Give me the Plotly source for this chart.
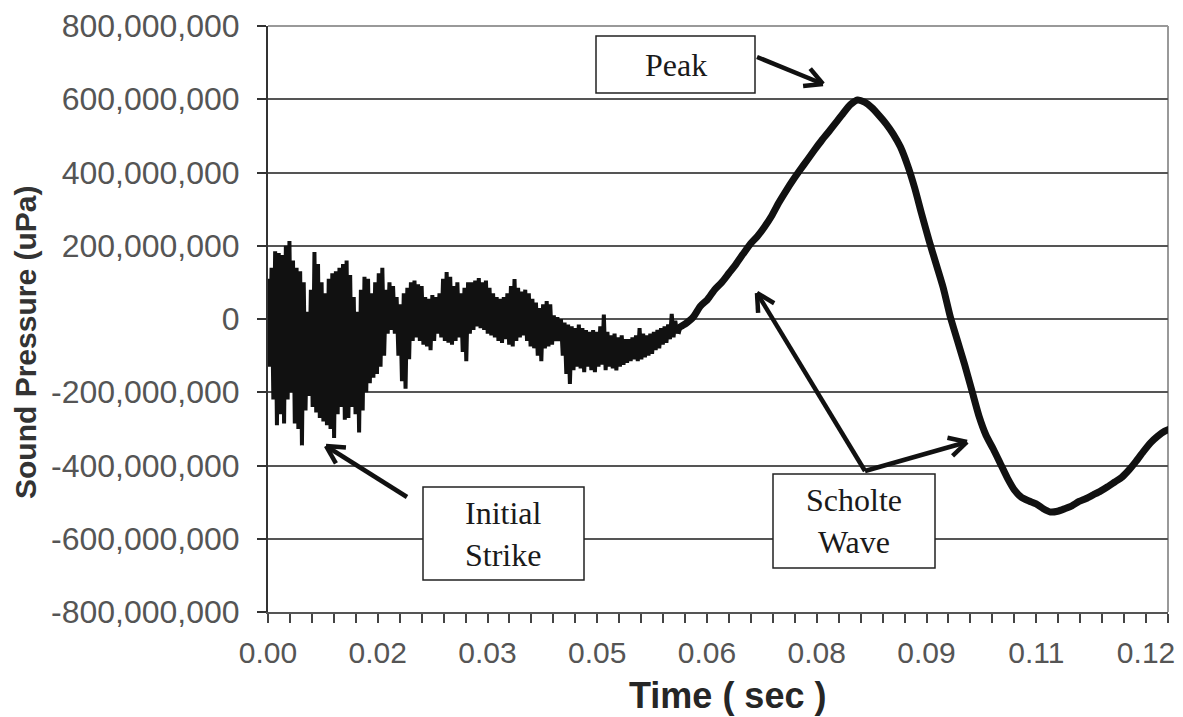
import math
import plotly.graph_objects as go

# ---------------- data ----------------
# Noisy early part: upper / lower envelope of the trace, one pair every 0.0005 s (million uPa)
noise_step = 0.0005
noise_hi = [110, 140, 185, 180, 175, 200, 213, 160, 140, 130,
            100, 20, 80, 183, 150, 100, 70, 110, 125, 130,
            140, 150, 160, 120, 60, 20, 80, 115, 110, 70,
            100, 125, 140, 80, 100, 90, 60, 40, 70, 85,
            100, 105, 95, 90, 60, 55, 65, 60, 70, 110,
            128, 115, 90, 100, 70, 85, 100, 100, 105, 112,
            100, 105, 85, 70, 60, 55, 60, 70, 90, 109,
            85, 75, 80, 70, 55, 45, 30, 40, 49, 40,
            10, 5, 0, -10, -15, -20, -25, -15, -25, -30,
            -35, -30, -35, -20, 12, -35, -45, -40, -50, -45,
            -55, -55, -50, -45, -25, -40, -45, -40, -35, -30,
            -25, -20, -15, 14, -5]
noise_lo = [-130, -220, -290, -260, -285, -220, -200, -285, -300, -345,
            -250, -210, -240, -255, -270, -280, -290, -300, -325, -260,
            -240, -275, -270, -240, -260, -310, -250, -200, -175, -160,
            -150, -130, -100, -40, -30, -40, -100, -170, -190, -110,
            -60, -50, -60, -70, -75, -85, -60, -40, -50, -60,
            -65, -70, -60, -50, -90, -115, -40, -30, -20, -25,
            -30, -40, -45, -50, -60, -65, -55, -70, -75, -60,
            -50, -45, -60, -75, -80, -100, -115, -80, -75, -70,
            -60, -60, -100, -150, -177, -140, -130, -135, -145, -130,
            -140, -145, -130, -125, -140, -130, -135, -140, -130, -125,
            -120, -115, -110, -115, -110, -105, -100, -95, -85, -80,
            -70, -65, -55, -50, -40]

# Smooth Scholte-wave part: one value every 0.001 s from 0.0575 s (million uPa)
wave_t0 = 0.0575
wave_step = 0.001
wave_vals = [-25, -12, 5, 35, 53, 80, 100, 125, 150, 178,
             205, 226, 252, 282, 318, 350, 380, 408, 435, 462,
             488, 512, 537, 562, 585, 598, 592, 577, 556, 533,
             505, 470, 420, 358, 285, 215, 150, 85, 5, -60,
             -125, -195, -265, -318, -355, -395, -435, -468, -488, -497,
             -505, -518, -527, -525, -518, -510, -498, -490, -480, -470,
             -458, -445, -432, -412, -388, -362, -338, -320, -306, -298]

x_major_unit = 0.01536
x_tick_labels = ["0.00", "0.02", "0.03", "0.05", "0.06", "0.08", "0.09", "0.11", "0.12"]
y_tick_values = [-800e6, -600e6, -400e6, -200e6, 0, 200e6, 400e6, 600e6, 800e6]
y_tick_labels = ["-800,000,000", "-600,000,000", "-400,000,000", "-200,000,000", "0",
                 "200,000,000", "400,000,000", "600,000,000", "800,000,000"]

# ---------------- build traces ----------------
noise_x, noise_y = [], []
for k, (h, l) in enumerate(zip(noise_hi, noise_lo)):
    noise_x += [k * noise_step, k * noise_step + noise_step / 2]
    noise_y += [h * 1e6, l * 1e6]

wave_x = [noise_x[-1]] + [wave_t0 + i * wave_step for i in range(len(wave_vals))]
wave_y = [noise_y[-1]] + [v * 1e6 for v in wave_vals]

fig = go.Figure()
fig.add_trace(go.Scatter(x=noise_x, y=noise_y, mode="lines",
                         line=dict(color="#111111", width=4), hoverinfo="skip"))
fig.add_trace(go.Scatter(x=wave_x, y=wave_y, mode="lines",
                         line=dict(color="#111111", width=7, shape="spline", smoothing=0.6),
                         hoverinfo="skip"))

# ---------------- layout ----------------
# target pixel positions of the plot area in the final page (page body has an 8px margin)
OFF = 8
L, R, T, B = 268, 1168, 26, 612
W, H = 1183 - OFF, 717 - OFF


def P(px, py):
    return (px - L) / (R - L), (B - py) / (B - T)


shapes = []
annotations = []


def arrow(sx, sy, tx, ty, arm=20, ang=28):
    x0, y0 = P(sx, sy)
    x1, y1 = P(tx, ty)
    shapes.append(dict(type="line", xref="paper", yref="paper", x0=x0, y0=y0, x1=x1, y1=y1,
                       line=dict(color="#111111", width=4.5), layer="above"))
    dx, dy = sx - tx, sy - ty
    n = math.hypot(dx, dy)
    ux, uy = dx / n, dy / n
    for s in (1, -1):
        a = math.radians(ang * s)
        rx = ux * math.cos(a) - uy * math.sin(a)
        ry = ux * math.sin(a) + uy * math.cos(a)
        ex, ey = P(tx + arm * rx, ty + arm * ry)
        shapes.append(dict(type="line", xref="paper", yref="paper", x0=x1, y0=y1, x1=ex, y1=ey,
                           line=dict(color="#111111", width=4.5), layer="above"))


def box(x0, y0, x1, y1, text):
    a0, b0 = P(x0, y1)
    a1, b1 = P(x1, y0)
    shapes.append(dict(type="rect", xref="paper", yref="paper", x0=a0, y0=b0, x1=a1, y1=b1,
                       fillcolor="white", line=dict(color="#222222", width=1.5), layer="above"))
    cx, cy = P((x0 + x1) / 2, (y0 + y1) / 2)
    annotations.append(dict(xref="paper", yref="paper", x=cx, y=cy, text=text, showarrow=False,
                            xanchor="center", yanchor="middle",
                            font=dict(family="Liberation Serif", size=32, color="#1a1a1a")))


arrow(757, 57, 823, 84)
arrow(407, 497, 326, 446)
arrow(865, 471, 757, 293)
arrow(865, 471, 967, 442)

box(596, 36, 755, 93, "Peak")
box(423, 487, 584, 580, "Initial<br>Strike")
box(773, 474, 935, 568, "Scholte<br>Wave")

# axis titles
tx, ty = P(26, 343)
annotations.append(dict(xref="paper", yref="paper", x=tx, y=ty, text="Sound Pressure (uPa)",
                        textangle=-90, showarrow=False, xanchor="center", yanchor="middle",
                        font=dict(family="Liberation Sans", size=30, color="#333333", weight="bold")))
tx, ty = P(727, 695)
annotations.append(dict(xref="paper", yref="paper", x=tx, y=ty, text="Time ( sec )",
                        showarrow=False, xanchor="center", yanchor="middle",
                        font=dict(family="Liberation Sans", size=36, color="#262626", weight="bold")))

x_major = [i * x_major_unit for i in range(len(x_tick_labels))]
x_minor = [i * x_major_unit / 5 for i in range(0, 42)]

fig.update_layout(
    width=W, height=H,
    margin=dict(l=L - OFF, r=1183 - R, t=T - OFF, b=717 - B, autoexpand=False),
    plot_bgcolor="white", paper_bgcolor="white",
    showlegend=False,
    shapes=shapes, annotations=annotations,
    xaxis=dict(range=[0, 8.2 * x_major_unit], tickmode="array", tickvals=x_major,
               ticktext=x_tick_labels, ticks="outside", ticklen=9, tickwidth=1.5,
               tickcolor="#444444", showgrid=False, zeroline=False,
               showline=True, linecolor="#555555", linewidth=2, mirror=False,
               ticklabelstandoff=4,
               minor=dict(tickmode="array", tickvals=x_minor, ticks="outside", ticklen=9,
                          tickwidth=1.5, tickcolor="#444444", showgrid=False),
               tickfont=dict(family="Liberation Sans", size=30, color="#555555")),
    yaxis=dict(range=[-800e6, 800e6], tickmode="array", tickvals=y_tick_values,
               ticktext=y_tick_labels, ticks="outside", ticklen=9, tickwidth=1.5,
               tickcolor="#333333", showgrid=True, gridcolor="#555555", gridwidth=2,
               zeroline=False, showline=True, linecolor="#333333", linewidth=2,
               ticklabelstandoff=11,
               tickfont=dict(family="Liberation Sans", size=32, color="#555555")),
)

# light frame on the top and right
fig.add_shape(type="line", xref="paper", yref="paper", x0=0, y0=1, x1=1, y1=1,
              line=dict(color="#999999", width=2), layer="below")
fig.add_shape(type="line", xref="paper", yref="paper", x0=1, y0=0, x1=1, y1=1,
              line=dict(color="#999999", width=2), layer="below")

fig.write_html("out.html")
